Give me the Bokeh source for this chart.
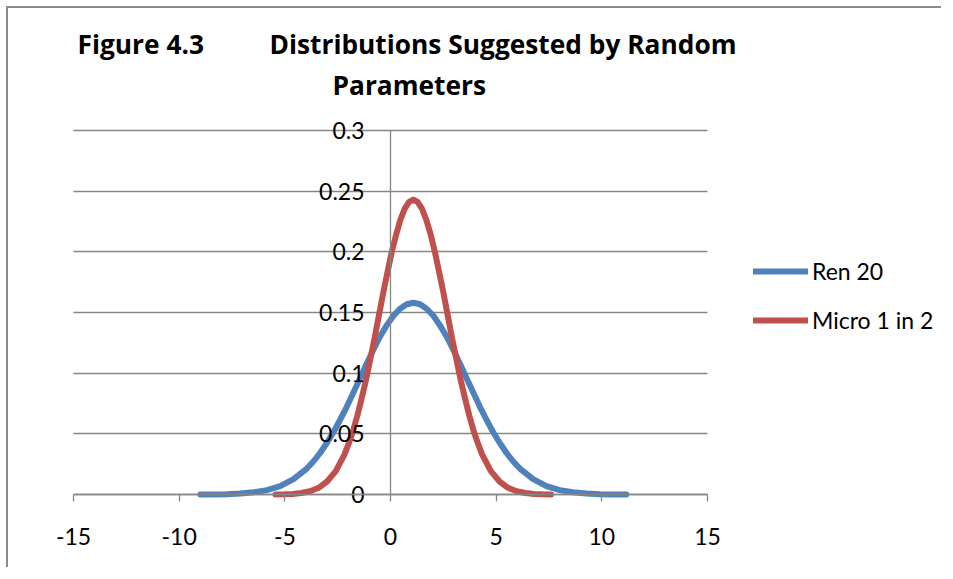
from bokeh.plotting import figure
from bokeh.models import (Range1d, FixedTicker, Grid, Label, Legend, LegendItem,
                          LinearAxis, ColumnDataSource)
from bokeh.core.properties import value
from bokeh.embed import file_html
from bokeh.resources import INLINE

# ---- data ----
ren20_x = [-9.00, -8.37, -7.74, -7.11, -6.48, -5.85, -5.22, -4.59, -3.96, -3.65, -3.33,
           -3.02, -2.70, -2.39, -2.07, -1.76, -1.44, -1.13, -0.81, -0.50, -0.18, 0.14,
           0.45, 0.77, 1.08, 1.40, 1.71, 2.03, 2.34, 2.66, 2.97, 3.29, 3.60, 3.92, 4.23,
           4.55, 4.86, 5.18, 5.49, 5.81, 6.12, 6.75, 7.38, 8.01, 8.64, 9.27, 9.90, 10.53,
           11.16]
ren20_y = [0.0001, 0.0001, 0.0003, 0.0008, 0.0018, 0.0036, 0.0069, 0.0126, 0.0214, 0.0272,
           0.0342, 0.0422, 0.0513, 0.0614, 0.0723, 0.0839, 0.0958, 0.1078, 0.1193, 0.1300,
           0.1394, 0.1473, 0.1531, 0.1568, 0.1580, 0.1568, 0.1531, 0.1473, 0.1394, 0.1300,
           0.1193, 0.1078, 0.0958, 0.0839, 0.0723, 0.0614, 0.0513, 0.0422, 0.0342, 0.0272,
           0.0214, 0.0126, 0.0069, 0.0036, 0.0018, 0.0008, 0.0003, 0.0001, 0.0001]
micro_x = [-5.44, -5.03, -4.63, -4.22, -3.81, -3.40, -3.00, -2.59, -2.18, -1.98, -1.77,
           -1.57, -1.37, -1.16, -0.96, -0.75, -0.55, -0.35, -0.14, 0.06, 0.27, 0.47, 0.67,
           0.88, 1.08, 1.28, 1.49, 1.69, 1.90, 2.10, 2.30, 2.51, 2.71, 2.91, 3.12, 3.32,
           3.53, 3.73, 3.93, 4.14, 4.34, 4.75, 5.16, 5.56, 5.97, 6.38, 6.79, 7.19, 7.60]
micro_y = [0.0001, 0.0002, 0.0005, 0.0012, 0.0027, 0.0055, 0.0107, 0.0193, 0.0329, 0.0419,
           0.0526, 0.0649, 0.0789, 0.0944, 0.1112, 0.1291, 0.1474, 0.1657, 0.1834, 0.1999,
           0.2144, 0.2265, 0.2355, 0.2411, 0.2430, 0.2411, 0.2355, 0.2265, 0.2144, 0.1999,
           0.1834, 0.1657, 0.1474, 0.1291, 0.1112, 0.0944, 0.0789, 0.0649, 0.0526, 0.0419,
           0.0329, 0.0193, 0.0107, 0.0055, 0.0027, 0.0012, 0.0005, 0.0002, 0.0001]
series_names = ["Ren 20", "Micro 1 in 2"]
series_colors = ["#4F81BD", "#C0504D"]
x_ticks = [-15, -10, -5, 0, 5, 10, 15]
x_tick_labels = ["-15", "-10", "-5", "0", "5", "10", "15"]
y_ticks = [0, 0.05, 0.1, 0.15, 0.2, 0.25, 0.3]
y_tick_labels = ["0", "0.05", "0.1", "0.15", "0.2", "0.25", "0.3"]
title_left = "Figure 4.3"
title_right = ["Distributions Suggested by Random", "Parameters"]

FONT = "Lato"
TITLE_FONT = "Open Sans"
GRID = "#868686"
TXT = "#000000"

# ---- layout (screen pixels of the page) ----
W, H = 935, 561
CANVAS_X0, CANVAS_Y0 = 8, 8          # canvas origin on the page
AX_X0, AX_X1 = 73, 707               # page x of x = -15 and x = 15
AX_Y0, AX_Y1 = 494, 130              # page y of y = 0 and y = 0.3
FR_L, FR_R, FR_T, FR_B = 20, 938, 13, 559   # frame edges on the page

sx = (AX_X1 - AX_X0) / (x_ticks[-1] - x_ticks[0])
sy = (AX_Y0 - AX_Y1) / (y_ticks[-1] - y_ticks[0])


def dx(px):
    return x_ticks[0] + (px - AX_X0) / sx


def dy(py):
    return (AX_Y0 - py) / sy


p = figure(width=W, height=H, output_backend="svg", toolbar_location=None,
           x_range=Range1d(dx(FR_L), dx(FR_R)), y_range=Range1d(dy(FR_B), dy(FR_T)),
           y_axis_location=None,
           min_border_left=FR_L - CANVAS_X0, min_border_right=W - (FR_R - CANVAS_X0),
           min_border_top=FR_T - CANVAS_Y0, min_border_bottom=H - (FR_B - CANVAS_Y0))
p.styles = {"position": "relative", "left": "6px", "top": "6px",
            "border-right": "none", "border-bottom": "none",
            "border-left": "2px solid #8c8c8c", "border-top": "2px solid #8c8c8c"}
p.outline_line_color = None
p.background_fill_color = "white"
p.border_fill_color = "white"
p.xgrid.visible = False
p.ygrid.visible = False

yticker = FixedTicker(ticks=y_ticks)
grid = Grid(dimension=1, ticker=yticker, grid_line_color=GRID, grid_line_width=1.3,
            cross_bounds=(x_ticks[0], x_ticks[-1]))
p.add_layout(grid)

# vertical axis crossing at x = 0 (its labels are drawn as text below)
yax = LinearAxis(ticker=yticker, fixed_location=0, bounds=(y_ticks[0], y_ticks[-1]),
                 axis_line_color=GRID, axis_line_width=1.3, major_tick_line_color=None,
                 minor_tick_line_color=None, major_tick_out=0, major_tick_in=0,
                 major_label_text_font_size="0px", major_label_text_color=None,
                 major_label_standoff=0)
p.add_layout(yax, "left")

# horizontal axis crossing at y = 0
ax = p.xaxis[0]
ax.ticker = FixedTicker(ticks=x_ticks)
ax.fixed_location = 0
ax.bounds = (x_ticks[0], x_ticks[-1])
ax.axis_line_color = GRID
ax.axis_line_width = 1.3
ax.major_tick_line_color = GRID
ax.major_tick_line_width = 1.3
ax.major_tick_out = 7
ax.major_tick_in = 0
ax.minor_tick_line_color = None
ax.major_label_text_font_size = "0px"
ax.major_label_text_color = None
ax.major_label_standoff = 0

# series
r1 = p.line(ren20_x, ren20_y, line_color=series_colors[0], line_width=6,
            line_cap="round", line_join="round")
r2 = p.line(micro_x, micro_y, line_color=series_colors[1], line_width=6,
            line_cap="round", line_join="round")

# tick labels of the two crossing axes
src_y = ColumnDataSource(dict(x=[0] * len(y_ticks), y=y_ticks, t=y_tick_labels))
p.text(x="x", y="y", text="t", source=src_y, x_offset=-26, text_align="right",
       text_baseline="middle", text_font=value(FONT), text_font_size="23px",
       text_color=TXT)
src_x = ColumnDataSource(dict(x=x_ticks, y=[0] * len(x_ticks), t=x_tick_labels))
p.text(x="x", y="y", text="t", source=src_x, y_offset=42, text_align="center",
       text_baseline="middle", text_font=value(FONT), text_font_size="23px",
       text_color=TXT)

legend = Legend(items=[LegendItem(label=series_names[0], renderers=[r1]),
                       LegendItem(label=series_names[1], renderers=[r2])],
                location=(753 - FR_L, FR_B - 334), orientation="vertical",
                glyph_width=55, glyph_height=28, label_standoff=4, spacing=21,
                padding=0, margin=0, border_line_color=None, background_fill_alpha=0,
                label_text_font=FONT, label_text_font_size="23px", label_text_color=TXT,
                label_height=28)
p.add_layout(legend)

# title
for txt, px, py in [(title_left, 77, 43.0), (title_right[0], 269, 43.0),
                    (title_right[1], 332, 84.0)]:
    p.add_layout(Label(x=dx(px), y=dy(py), text=txt, text_font=TITLE_FONT,
                       text_font_size="26.3px", text_font_style="bold", text_color=TXT,
                       text_baseline="middle", text_align="left"))

open("out.html", "w").write(file_html(p, INLINE))
